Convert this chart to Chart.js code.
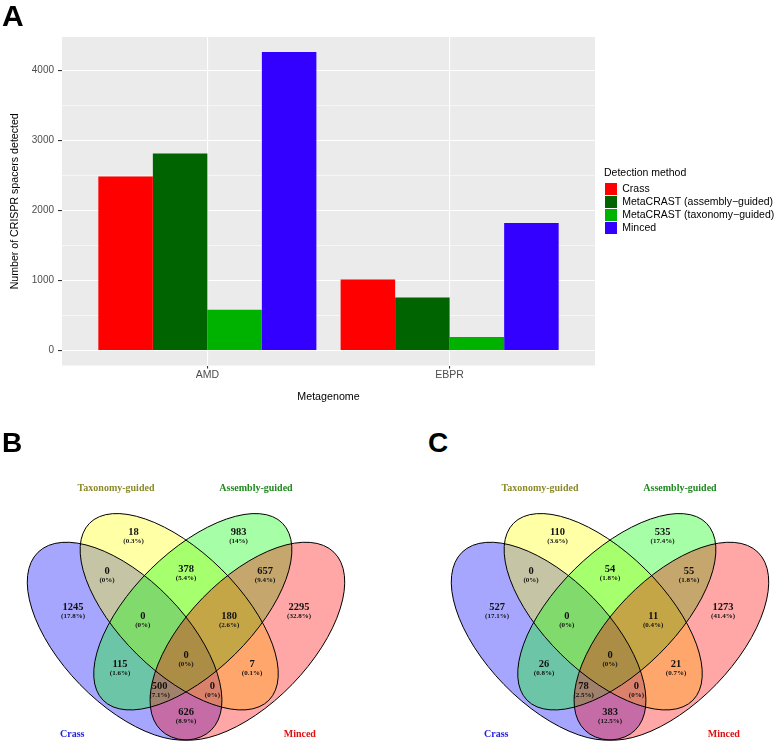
<!DOCTYPE html>
<html><head><meta charset="utf-8">
<script src="https://cdn.jsdelivr.net/npm/chart.js@4.4.0/dist/chart.umd.min.js"></script>
<style>
html,body{margin:0;padding:0;background:#fff;}
body{width:776px;height:743px;position:relative;overflow:hidden;}
canvas{position:absolute;}
.panel{position:absolute;font-family:"Liberation Sans",Arial,sans-serif;font-weight:bold;line-height:1;color:#000;z-index:2;}
</style></head><body>
<canvas id="barChart" width="776" height="410" style="left:0;top:0"></canvas>
<canvas id="vennB" width="388" height="273" style="left:0;top:470px"></canvas>
<canvas id="vennC" width="352" height="273" style="left:424px;top:470px"></canvas>
<div class="panel" style="left:2px;top:1px;font-size:30px">A</div>
<div class="panel" style="left:2px;top:429px;font-size:28px">B</div>
<div class="panel" style="left:428px;top:429px;font-size:28px">C</div>
<script>
// ---------- Panel A data ----------
const metagenomes = ['AMD', 'EBPR'];
const methods = ['Crass', 'MetaCRAST (assembly\u2212guided)', 'MetaCRAST (taxonomy\u2212guided)', 'Minced'];
const crassSpacers = [2486, 1014];
const assemblySpacers = [2813, 759];
const taxonomySpacers = [583, 196];
const mincedSpacers = [4265, 1821];
const yMajorTicks = [0, 1000, 2000, 3000, 4000];
const yMinorTicks = [500, 1500, 2500, 3500];
const methodColors = ['#FF0000', '#006400', '#00B200', '#3300FF'];

// ---------- Panels B / C data ----------
const vennSets = ['Crass', 'Taxonomy-guided', 'Assembly-guided', 'Minced'];
// region order: C, T, A, M, C∩T, T∩A, A∩M, C∩T∩A, T∩A∩M, C∩A, all, T∩M, C∩A∩M, C∩T∩M, C∩M
const amdRegionCounts   = [1245, 18, 983, 2295, 0, 378, 657, 0, 180, 115, 0, 7, 500, 0, 626];
const amdRegionPercents = [17.8, 0.3, 14, 32.8, 0, 5.4, 9.4, 0, 2.6, 1.6, 0, 0.1, 7.1, 0, 8.9];
const ebprRegionCounts   = [527, 110, 535, 1273, 0, 54, 55, 0, 11, 26, 0, 21, 78, 0, 383];
const ebprRegionPercents = [17.1, 3.6, 17.4, 41.4, 0, 1.8, 1.8, 0, 0.4, 0.8, 0, 0.7, 2.5, 0, 12.5];

// ---------- layout (Venn coordinate units) ----------
const regionLabelPos = [[73,137.3],[133.5,62.7],[238.5,62.7],[299,137.3],[107,101.7],[186,99.3],[265,101.7],
  [142.8,146],[229.2,146],[120,194],[186,185],[252,194],[159.6,216],[212.4,216],[186,242.3]];
const vennEllipses = [
  {cx:124.6, cy:171.2, a:124.1, b:62.2, angle:45.8, fill:'rgb(0,0,255)'},
  {cx:179.2, cy:141.75, a:126, b:59.9, angle:44.6, fill:'rgb(255,255,0)'},
  {cx:192.8, cy:141.75, a:126, b:59.9, angle:-44.6, fill:'rgb(0,255,0)'},
  {cx:247.4, cy:171.2, a:124.1, b:62.2, angle:-45.8, fill:'rgb(255,0,0)'}
];
const setLabelPos = [[72.2,264],[116,18.3],[256,18.3],[299.8,264]];
const setLabelColors = ['#2222dd', '#8c8a2a', '#1f8a1f', '#dd1111'];

const SANS = '"Liberation Sans", Arial, sans-serif';
const SERIF = '"Liberation Serif", "Times New Roman", serif';
Chart.defaults.font.family = SANS;

const panelBg = {
  id: 'panelBg',
  beforeDraw(chart) {
    const {ctx, chartArea: a} = chart;
    ctx.save();
    ctx.fillStyle = '#EBEBEB';
    ctx.fillRect(a.left, a.top, a.right - a.left, a.bottom - a.top);
    ctx.restore();
  }
};

const ymax = Math.max(...crassSpacers, ...assemblySpacers, ...taxonomySpacers, ...mincedSpacers);

new Chart(document.getElementById('barChart'), {
  type: 'bar',
  data: {
    datasets: [crassSpacers, assemblySpacers, taxonomySpacers, mincedSpacers].map((vals, k) => ({
      label: methods[k],
      data: metagenomes.map((m, i) => ({x: i + 1, y: vals[i]})),
      backgroundColor: methodColors[k],
      borderWidth: 0,
      categoryPercentage: 0.9,
      barPercentage: 1.0
    }))
  },
  options: {
    responsive: false, animation: false, events: [],
    layout: {padding: {top: 37, left: 0, right: 0, bottom: 5}},
    scales: {
      x: {
        type: 'linear', min: 0.4, max: 2.6, offset: false,
        afterBuildTicks: s => { s.ticks = metagenomes.map((m, i) => ({value: i + 1})); },
        ticks: {callback: v => metagenomes[Math.round(v) - 1], color: '#4d4d4d', font: {size: 10.5},
                padding: 0, autoSkip: false, maxRotation: 0, minRotation: 0},
        grid: {offset: false, color: '#ffffff', lineWidth: 1.1, tickColor: '#333333', tickLength: 3},
        border: {display: false},
        title: {display: true, text: 'Metagenome', color: '#000', font: {size: 10.7}, padding: {top: 9, bottom: 2}}
      },
      y: {
        type: 'linear', min: -0.05 * ymax, max: 1.05 * ymax,
        afterBuildTicks: s => { s.ticks = [...yMajorTicks, ...yMinorTicks].sort((a, b) => a - b).map(v => ({value: v})); },
        afterFit: s => { s.width = 62; },
        ticks: {callback: v => yMajorTicks.includes(v) ? String(v) : '', color: '#4d4d4d', font: {size: 10},
                padding: 4, autoSkip: false},
        grid: {color: '#ffffff',
               lineWidth: c => (c.tick && yMajorTicks.includes(c.tick.value)) ? 1.1 : 0.55,
               tickColor: c => (c.tick && yMajorTicks.includes(c.tick.value)) ? '#333333' : 'rgba(0,0,0,0)',
               tickLength: 4},
        border: {display: false},
        title: {display: true, text: 'Number of CRISPR spacers detected', color: '#000', font: {size: 10.6},
                padding: {top: 8.6, bottom: 0}}
      },
      y2: {
        type: 'linear', position: 'right', display: true,
        ticks: {display: false}, grid: {display: false, drawTicks: false}, border: {display: false},
        afterFit: s => { s.width = 9; }
      }
    },
    plugins: {
      legend: {
        position: 'right', align: 'center', fullSize: false, maxWidth: 172,
        title: {display: true, text: 'Detection method', color: '#000', font: {size: 10.5},
                padding: {top: 0, bottom: 2}, position: 'start'},
        labels: {boxWidth: 12, boxHeight: 12, padding: 1, color: '#000', font: {size: 10.5}}
      },
      tooltip: {enabled: false}
    }
  },
  plugins: [panelBg]
});

const vennPlugin = {
  id: 'vennShapes',
  beforeDatasetsDraw(chart) {
    const {ctx, scales: {x, y}} = chart;
    const unit = x.getPixelForValue(1) - x.getPixelForValue(0);
    ctx.save();
    vennEllipses.forEach(e => {
      ctx.beginPath();
      ctx.ellipse(x.getPixelForValue(e.cx), y.getPixelForValue(e.cy), e.a * unit, e.b * unit,
                  e.angle * Math.PI / 180, 0, 2 * Math.PI);
      ctx.globalAlpha = 0.35;
      ctx.fillStyle = e.fill;
      ctx.fill();
    });
    ctx.globalAlpha = 1;
    ctx.strokeStyle = '#000';
    ctx.lineWidth = 1;
    vennEllipses.forEach(e => {
      ctx.beginPath();
      ctx.ellipse(x.getPixelForValue(e.cx), y.getPixelForValue(e.cy), e.a * unit, e.b * unit,
                  e.angle * Math.PI / 180, 0, 2 * Math.PI);
      ctx.stroke();
    });
    ctx.restore();
  },
  afterDatasetsDraw(chart) {
    const {ctx, scales: {x, y}} = chart;
    const meta = chart.getDatasetMeta(0);
    const raw = chart.data.datasets[0].data;
    ctx.save();
    ctx.textAlign = 'center';
    ctx.textBaseline = 'middle';
    ctx.fillStyle = '#111';
    meta.data.forEach((el, i) => {
      ctx.font = 'bold 10.5px ' + SERIF;
      ctx.fillText(String(raw[i].count), el.x, el.y);
      ctx.font = 'bold 7px ' + SERIF;
      ctx.fillText('(' + raw[i].pct + '%)', el.x, el.y + 8.7);
    });
    ctx.font = 'bold 10px ' + SERIF;
    vennSets.forEach((name, i) => {
      ctx.fillStyle = setLabelColors[i];
      ctx.fillText(name, x.getPixelForValue(setLabelPos[i][0]), y.getPixelForValue(setLabelPos[i][1]));
    });
    ctx.restore();
  }
};

function makeVenn(id, counts, percents) {
  const canvas = document.getElementById(id);
  new Chart(canvas, {
    type: 'scatter',
    data: {
      datasets: [{
        label: 'regions',
        data: regionLabelPos.map((p, i) => ({x: p[0], y: p[1], count: counts[i], pct: percents[i]})),
        pointRadius: 0, pointHoverRadius: 0
      }]
    },
    options: {
      responsive: false, animation: false, events: [],
      layout: {padding: 0},
      scales: {
        x: {type: 'linear', min: 0, max: canvas.width, display: false},
        y: {type: 'linear', min: 0, max: canvas.height, reverse: true, display: false}
      },
      plugins: {legend: {display: false}, tooltip: {enabled: false}}
    },
    plugins: [vennPlugin]
  });
}
makeVenn('vennB', amdRegionCounts, amdRegionPercents);
makeVenn('vennC', ebprRegionCounts, ebprRegionPercents);
</script>
</body></html>
